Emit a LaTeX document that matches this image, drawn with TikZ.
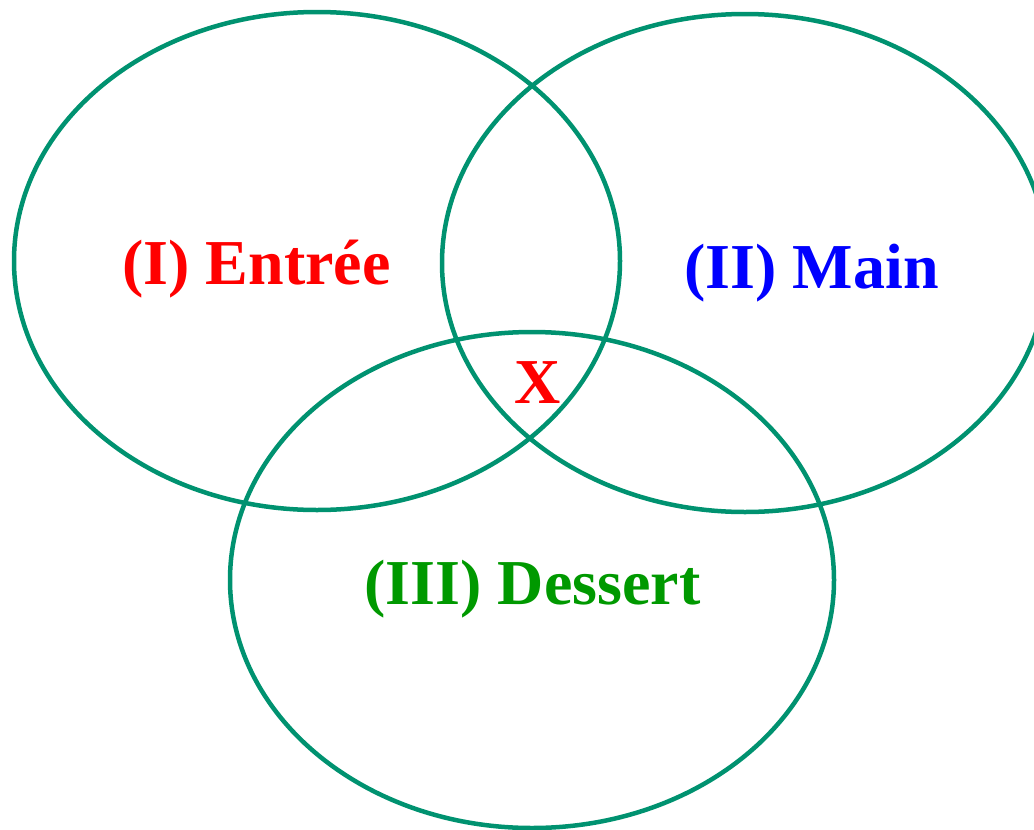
\documentclass[tikz,border=0pt]{standalone}
\usepackage{fontspec}
\setmainfont{Liberation Serif}
\definecolor{ring}{RGB}{0,146,112}
\definecolor{tred}{RGB}{255,0,0}
\definecolor{tblue}{RGB}{0,0,255}
\definecolor{tgreen}{RGB}{0,153,0}
\begin{document}
\begin{tikzpicture}[x=1pt,y=-1pt,
  setring/.style={draw=ring,line width=4.5pt},
  lab/.style={anchor=base,inner sep=0pt,font=\fontsize{64}{72}\selectfont\bfseries}]
\useasboundingbox (0,0) rectangle (1034,830);
\begin{scope}
\clip (0,0) rectangle (1034,830);
\draw[setring] (317,261) ellipse [x radius=303, y radius=249];
\draw[setring] (745,263) ellipse [x radius=303, y radius=249];
\draw[setring] (532,580) ellipse [x radius=302, y radius=248];
\end{scope}
\node[lab,text=tred] (entree) at (256.5,284) {(I) Entrée};
\node[lab,text=tblue] (main) at (811.5,288) {(II) Main};
\node[lab,text=tgreen] (dessert) at (532.5,604) {(III) Dessert};
\node[lab,text=tred] (x) at (538,403) {X};
\end{tikzpicture}
\end{document}
